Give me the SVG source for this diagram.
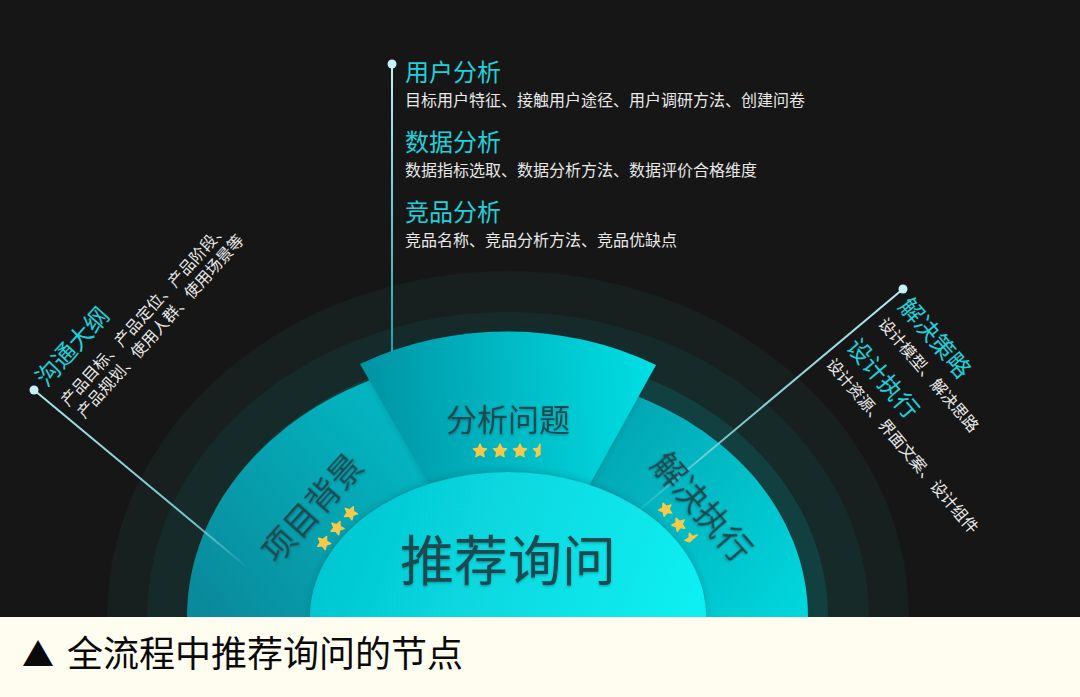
<svg xmlns="http://www.w3.org/2000/svg" xmlns:xlink="http://www.w3.org/1999/xlink" width="1080" height="697" viewBox="0 0 1080 697">
<style>
.cjk{font-family:"Noto Sans CJK SC","Noto Sans",sans-serif}
.h{fill:#1fd1db;font-size:24px}
.d{fill:#e8e8e8;font-size:16px}
.lbl{fill:#1a4a50}
.star{fill:#f7c948;stroke:#f7c948;stroke-width:1.4;stroke-linejoin:round}
</style>
<defs>
<linearGradient id="gLeft" gradientUnits="userSpaceOnUse" x1="187" y1="600" x2="470" y2="380"><stop offset="0" stop-color="#0a899a"/><stop offset="1" stop-color="#00c3cd"/></linearGradient>
<linearGradient id="gMid" gradientUnits="userSpaceOnUse" x1="360" y1="420" x2="656" y2="400"><stop offset="0" stop-color="#0092a3"/><stop offset="1" stop-color="#00dfe4"/></linearGradient>
<linearGradient id="gRight" gradientUnits="userSpaceOnUse" x1="580" y1="430" x2="808" y2="600"><stop offset="0" stop-color="#03a2b0"/><stop offset="1" stop-color="#00d6dc"/></linearGradient>
<linearGradient id="gCenter" gradientUnits="userSpaceOnUse" x1="330" y1="480" x2="700" y2="617"><stop offset="0" stop-color="#05c5d0"/><stop offset="1" stop-color="#0af0f3"/></linearGradient>
<linearGradient id="gV" gradientUnits="userSpaceOnUse" x1="392" y1="64" x2="392" y2="352"><stop offset="0" stop-color="#c4f2f5"/><stop offset="1" stop-color="#17a3b3"/></linearGradient>
<linearGradient id="gL" gradientUnits="userSpaceOnUse" x1="34" y1="390" x2="248" y2="568"><stop offset="0" stop-color="#a9e7eb"/><stop offset="0.75" stop-color="#7fd5dc" stop-opacity="0.9"/><stop offset="1" stop-color="#7fd5dc" stop-opacity="0"/></linearGradient>
<linearGradient id="gR" gradientUnits="userSpaceOnUse" x1="903" y1="289" x2="625" y2="522"><stop offset="0" stop-color="#b5ecef"/><stop offset="0.7" stop-color="#7fd0d8" stop-opacity="0.9"/><stop offset="1" stop-color="#7fd0d8" stop-opacity="0"/></linearGradient>
<filter id="sh" x="-20%" y="-20%" width="140%" height="140%"><feDropShadow dx="0" dy="-1" stdDeviation="3" flood-color="#00363c" flood-opacity="0.3"/></filter>
<filter id="tsh" x="-10%" y="-10%" width="120%" height="130%"><feDropShadow dx="0" dy="1.5" stdDeviation="1.2" flood-color="#003a40" flood-opacity="0.35"/></filter>
<path id="star" class="star" d="M0,-7 L1.955,-2.69 L6.657,-2.163 L3.162,1.027 L4.114,5.663 L0,3.325 L-4.114,5.663 L-3.162,1.027 L-6.657,-2.163 L-1.955,-2.69 Z"/>
<path id="half" class="star" d="M0,-7 L-1.955,-2.69 L-6.657,-2.163 L-3.162,1.027 L-4.114,5.663 L0,3.325 Z"/>
</defs>

<rect x="0" y="0" width="1080" height="697" fill="#161616"/>

<g id="rings">
<path d="M107,617 A401 346 0 0 1 909,617 Z" fill="#171f1f"/>
<path d="M147,617 A361 305 0 0 1 869,617 Z" fill="#162a2a"/>
<path d="M188,617 A320 265 0 0 1 828,617 Z" fill="#124040"/>
</g>

<g id="node-xiangmu">
<path d="M508,617 L187,617 A321 262 0 0 1 420,365 Z" fill="url(#gLeft)"/>
</g>
<g id="node-jiejue">
<path d="M508,617 L600,384 A300 245 0 0 1 808,617 Z" fill="url(#gRight)"/>
</g>
<g id="node-fenxi">
<path d="M506,617 L360,364 A317 286 0 0 1 656,365 L516,617 Z" fill="url(#gMid)" filter="url(#sh)"/>
</g>
<g id="node-center">
<path d="M310,617 A198 145 0 0 1 706,617 Z" fill="url(#gCenter)" filter="url(#sh)"/>
</g>

<g id="connectors" fill="none" stroke-width="2">
<line x1="392" y1="64" x2="392" y2="352" stroke="url(#gV)"/>
<line x1="34" y1="390" x2="248" y2="568" stroke="url(#gL)"/>
<line x1="903" y1="289" x2="625" y2="522" stroke="url(#gR)"/>
<circle cx="392" cy="64" r="4.5" fill="#c8f3f6" stroke="none"/>
<circle cx="34" cy="390" r="4.5" fill="#c8f3f6" stroke="none"/>
<circle cx="903" cy="289" r="4.5" fill="#c8f3f6" stroke="none"/>
</g>

<g id="label-fenxi">
<text class="cjk lbl" x="508" y="431" font-size="31" text-anchor="middle" filter="url(#tsh)">分析问题</text>
<use href="#star" x="480" y="451"/>
<use href="#star" x="500" y="451"/>
<use href="#star" x="520" y="451"/>
<use href="#half" x="540" y="451"/>
</g>

<g id="label-xiangmu" transform="translate(312,508) rotate(-48)">
<text class="cjk lbl" x="0" y="12" font-size="33" text-anchor="middle" filter="url(#tsh)">项目背景</text>
<use href="#star" x="-18" y="32"/>
<use href="#star" x="2" y="32"/>
<use href="#star" x="22" y="32"/>
</g>

<g id="label-jiejue" transform="translate(702,507) rotate(48.8)">
<text class="cjk lbl" x="0" y="12" font-size="33" text-anchor="middle" filter="url(#tsh)">解决执行</text>
<use href="#star" x="-22" y="29"/>
<use href="#star" x="-2" y="29"/>
<use href="#half" x="18" y="29"/>
</g>

<g id="label-center">
<text class="cjk lbl" x="508" y="581" font-size="54" text-anchor="middle" filter="url(#tsh)">推荐询问</text>
</g>

<g id="top-block" class="cjk">
<text class="h" x="405" y="81" font-size="23">用户分析</text>
<text class="d" x="405" y="106">目标用户特征、接触用户途径、用户调研方法、创建问卷</text>
<text class="h" x="405" y="151" font-size="23">数据分析</text>
<text class="d" x="405" y="176">数据指标选取、数据分析方法、数据评价合格维度</text>
<text class="h" x="405" y="221" font-size="23">竞品分析</text>
<text class="d" x="405" y="246">竞品名称、竞品分析方法、竞品优缺点</text>
</g>

<g id="left-block" class="cjk" transform="translate(34,390) rotate(-48)">
<text class="h" x="10" y="8">沟通大纲</text>
<text class="d" x="10" y="37">产品目标、产品定位、产品阶段、</text>
<text class="d" x="12" y="57">产品规划、使用人群、使用场景等</text>
</g>

<g id="right-block" class="cjk" transform="translate(903,289) rotate(49.5)">
<text class="h" x="10" y="16">解决策略</text>
<text class="d" x="10" y="42">设计模型、解决思路</text>
<text class="h" x="7" y="82">设计执行</text>
<text class="d" x="7" y="108">设计资源、界面文案、设计组件</text>
</g>

<g id="caption">
<rect x="0" y="617" width="1080" height="80" fill="#fffcf0"/>
<text class="cjk" x="22" y="666" font-size="32" fill="#0a0a0a">▲<tspan x="67" y="667" font-size="36">全流程中推荐询问的节点</tspan></text>
</g>
</svg>
